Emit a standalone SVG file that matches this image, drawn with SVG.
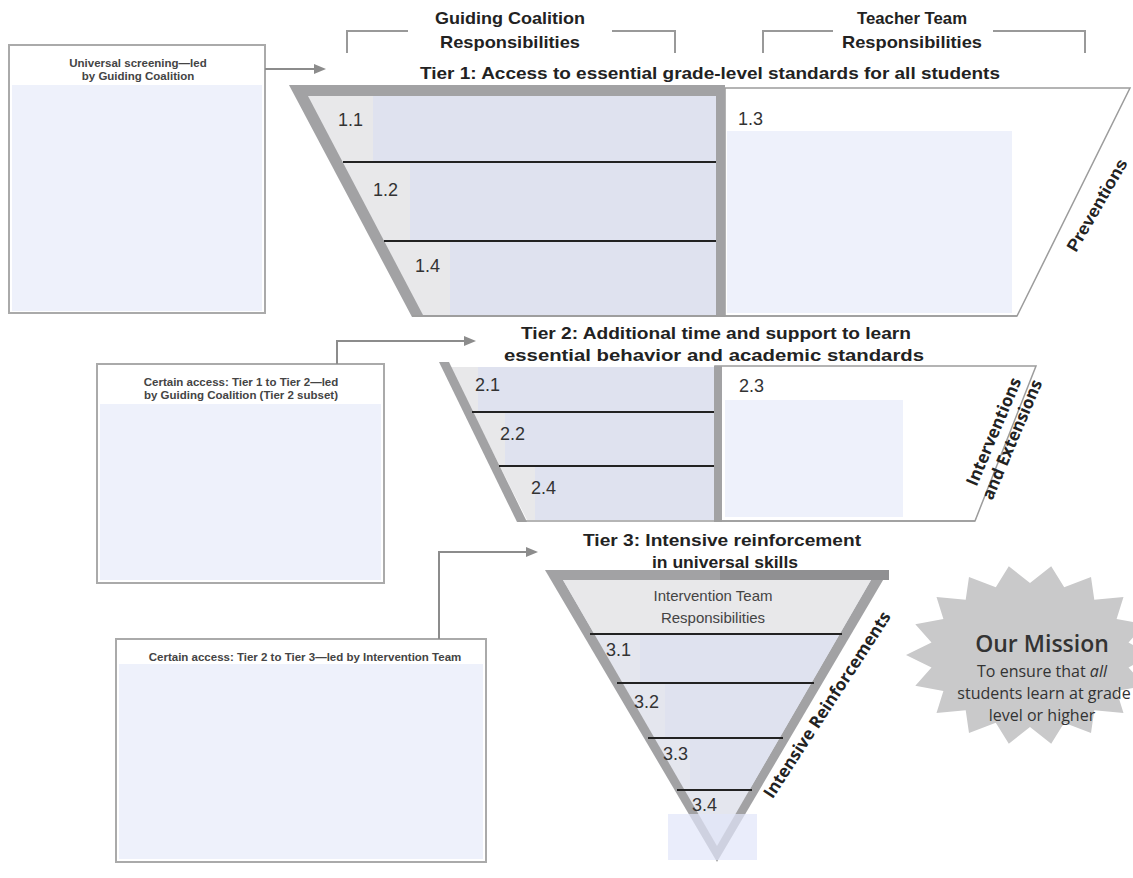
<svg xmlns="http://www.w3.org/2000/svg" width="1133" height="878" viewBox="0 0 1133 878">
<style>
.hd{font-family:"Liberation Sans",Arial,sans-serif;font-weight:bold;fill:#222;text-anchor:middle}
.bx{font-family:"Liberation Sans",Arial,sans-serif;font-weight:bold;font-size:11.5px;fill:#444;text-anchor:middle}
.num{font-family:"Liberation Sans",Arial,sans-serif;font-size:18px;fill:#333}
.side{font-family:"Open Sans","DejaVu Sans",sans-serif;font-weight:bold;font-size:17px;fill:#222;text-anchor:middle}
.box{fill:#fff;stroke:#aaa;stroke-width:2}
.lav{fill:#eef1fb}
.lav2{fill:#dfe2ef}
.frame{fill:#a2a2a4}
.thin{fill:#fff;stroke:#9c9c9c;stroke-width:1.5}
.rule{stroke:#222;stroke-width:2}
.brk{fill:none;stroke:#999;stroke-width:2}
.con{fill:none;stroke:#8c8c8c;stroke-width:2}
.ms{font-family:"Open Sans","DejaVu Sans",sans-serif;fill:#333;text-anchor:middle}
</style>
<defs>
<marker id="ah" viewBox="0 0 12 10" refX="2" refY="5" markerWidth="12" markerHeight="10" markerUnits="userSpaceOnUse" orient="auto">
<path d="M0,0 L12,5 L0,10 z" fill="#8c8c8c"/>
</marker>
<clipPath id="t3clip"><polygon points="563,580 871,580 717,846"/></clipPath>
</defs>

<g id="headers">
<text class="hd" x="510" y="24" font-size="17" textLength="150" lengthAdjust="spacingAndGlyphs">Guiding Coalition</text>
<text class="hd" x="510" y="48" font-size="17" textLength="140" lengthAdjust="spacingAndGlyphs">Responsibilities</text>
<path class="brk" d="M347,53 V31 H408 M612,31 H675 V53"/>
<text class="hd" x="912" y="24" font-size="17" textLength="110" lengthAdjust="spacingAndGlyphs">Teacher Team</text>
<text class="hd" x="912" y="48" font-size="17" textLength="140" lengthAdjust="spacingAndGlyphs">Responsibilities</text>
<path class="brk" d="M763,53 V31 H833 M993,31 H1085 V53"/>
</g>

<g id="box1">
<rect class="box" x="9" y="45" width="256" height="268"/>
<rect class="lav" x="12" y="85" width="250" height="226"/>
<text class="bx" x="138" y="67">Universal screening—led</text>
<text class="bx" x="138" y="80">by Guiding Coalition</text>
</g>

<g id="tier1">
<text class="hd" x="710" y="79" font-size="16" textLength="580" lengthAdjust="spacingAndGlyphs">Tier 1: Access to essential grade-level standards for all students</text>
<polygon class="thin" points="725,88 1130,88 1017,316 725,316"/>
<rect class="lav" x="727" y="131" width="285" height="182"/>
<polygon class="frame" points="289,85 725,85 725,317 412,317"/>
<polygon fill="#e8e8ea" points="308,96 716,96 716,315 423,315"/>
<rect class="lav2" x="373" y="96" width="343" height="66"/>
<rect class="lav2" x="410" y="162" width="306" height="79"/>
<rect class="lav2" x="450" y="241" width="266" height="74"/>
<line x1="412" y1="316" x2="1017" y2="316" stroke="#9c9c9c" stroke-width="1.5"/>
<line class="rule" x1="343" y1="162" x2="716" y2="162"/>
<line class="rule" x1="384" y1="241" x2="716" y2="241"/>
<text class="num" x="338" y="126">1.1</text>
<text class="num" x="373" y="196">1.2</text>
<text class="num" x="415" y="272">1.4</text>
<text class="num" x="738" y="125">1.3</text>
<text font-family="Liberation Sans, Arial, sans-serif" font-weight="bold" font-size="17" fill="#222" text-anchor="middle" textLength="104" lengthAdjust="spacingAndGlyphs" transform="translate(1102,208) rotate(-60)">Preventions</text>
</g>

<g id="box2">
<rect class="box" x="97" y="364" width="287" height="219"/>
<rect class="lav" x="100" y="404" width="281" height="176"/>
<text class="bx" x="241" y="386">Certain access: Tier 1 to Tier 2—led</text>
<text class="bx" x="241" y="399">by Guiding Coalition (Tier 2 subset)</text>
</g>

<g id="tier2">
<text class="hd" x="716" y="339" font-size="16" textLength="390" lengthAdjust="spacingAndGlyphs">Tier 2: Additional time and support to learn</text>
<text class="hd" x="714" y="361" font-size="16" textLength="420" lengthAdjust="spacingAndGlyphs">essential behavior and academic standards</text>
<polygon class="thin" points="715,366 1036,366 975,521 715,521"/>
<rect class="lav" x="725" y="400" width="178" height="117"/>
<polygon fill="#e8e8ea" points="450,367 714,367 714,520 527,520"/>
<rect class="lav2" x="478" y="367" width="236" height="45"/>
<rect class="lav2" x="505" y="412" width="209" height="54"/>
<rect class="lav2" x="535" y="466" width="179" height="54"/>
<polygon class="frame" points="439,362 449,362 527,522 517,522"/>
<rect class="frame" x="714" y="366" width="8" height="156"/>
<line x1="518" y1="521" x2="975" y2="521" stroke="#9c9c9c" stroke-width="1.5"/>
<line class="rule" x1="472" y1="412" x2="714" y2="412"/>
<line class="rule" x1="499" y1="466" x2="714" y2="466"/>
<text class="num" x="475" y="391">2.1</text>
<text class="num" x="500" y="440">2.2</text>
<text class="num" x="531" y="494">2.4</text>
<text class="num" x="739" y="392">2.3</text>
<g transform="translate(999,434) rotate(-67)">
<text class="side" x="0" y="0">Interventions</text>
<text class="side" x="0" y="20">and Extensions</text>
</g>
</g>

<g id="box3">
<rect class="box" x="116" y="639" width="370" height="223"/>
<rect class="lav" x="119" y="664" width="364" height="195"/>
<text class="bx" x="305" y="661">Certain access: Tier 2 to Tier 3—led by Intervention Team</text>
</g>

<g id="tier3">
<text class="hd" x="722" y="546" font-size="16" textLength="278" lengthAdjust="spacingAndGlyphs">Tier 3: Intensive reinforcement</text>
<text class="hd" x="725" y="568" font-size="16" textLength="146" lengthAdjust="spacingAndGlyphs">in universal skills</text>
<polygon class="frame" points="545,570 889,570 717,862"/>
<rect x="720" y="570" width="169" height="10" fill="#909092"/>
<polygon fill="#e4e6ee" points="563,580 871,580 717,846"/>
<g clip-path="url(#t3clip)">
<rect x="540" y="580" width="340" height="54" fill="#e8e8ea"/>
<rect x="640" y="634" width="200" height="49" fill="#dfe2ef"/>
<rect x="665" y="683" width="150" height="55" fill="#dfe2ef"/>
<rect x="690" y="738" width="95" height="52" fill="#dfe2ef"/>
</g>
<line class="rule" x1="590" y1="634" x2="842" y2="634"/>
<line class="rule" x1="617" y1="683" x2="814" y2="683"/>
<line class="rule" x1="648" y1="738" x2="783" y2="738"/>
<line class="rule" x1="677" y1="790" x2="752" y2="790"/>
<text x="713" y="601" font-family="Liberation Sans, Arial, sans-serif" font-size="15" fill="#444" text-anchor="middle">Intervention Team</text>
<text x="713" y="623" font-family="Liberation Sans, Arial, sans-serif" font-size="15" fill="#444" text-anchor="middle">Responsibilities</text>
<text class="num" x="606" y="656">3.1</text>
<text class="num" x="634" y="708">3.2</text>
<text class="num" x="663" y="760">3.3</text>
<text class="num" x="692" y="811">3.4</text>
<rect x="668" y="814" width="89" height="46" fill="#e1e6fa" fill-opacity="0.7"/>
<text class="side" transform="translate(832,708) rotate(-57)">Intensive Reinforcements</text>
</g>

<g id="mission">
<polygon fill="#c9c9ca" points="1152,655 1128.5,667.5 1144.7,685.8 1116.6,691 1123.5,712.9 1094.3,710.2 1091,732.9 1064.2,722.7 1051.2,743.7 1030,727 1008.8,743.7 995.8,722.7 969,732.9 965.7,710.2 936.5,712.9 943.4,691 915.3,685.8 931.5,667.5 906,655 931.5,642.5 915.3,624.2 943.4,619 936.5,597.1 965.7,599.8 969,577.1 995.8,587.3 1008.8,566.3 1030,583 1051.2,566.3 1064.2,587.3 1091,577.1 1094.3,599.8 1123.5,597.1 1116.6,619 1144.7,624.2 1128.5,642.5"/>
<text class="ms" x="1042" y="652" font-size="23" font-weight="600">Our Mission</text>
<text class="ms" x="1042" y="677" font-size="16">To ensure that <tspan font-style="italic">all</tspan></text>
<text class="ms" x="1044" y="699" font-size="16">students learn at grade</text>
<text class="ms" x="1042" y="721" font-size="16">level or higher</text>
</g>

<g id="connectors">
<path class="con" d="M265,69 H316" marker-end="url(#ah)"/>
<path class="con" d="M337,364 V341 H466" marker-end="url(#ah)"/>
<path class="con" d="M439,639 V552 H528" marker-end="url(#ah)"/>
</g>
</svg>
